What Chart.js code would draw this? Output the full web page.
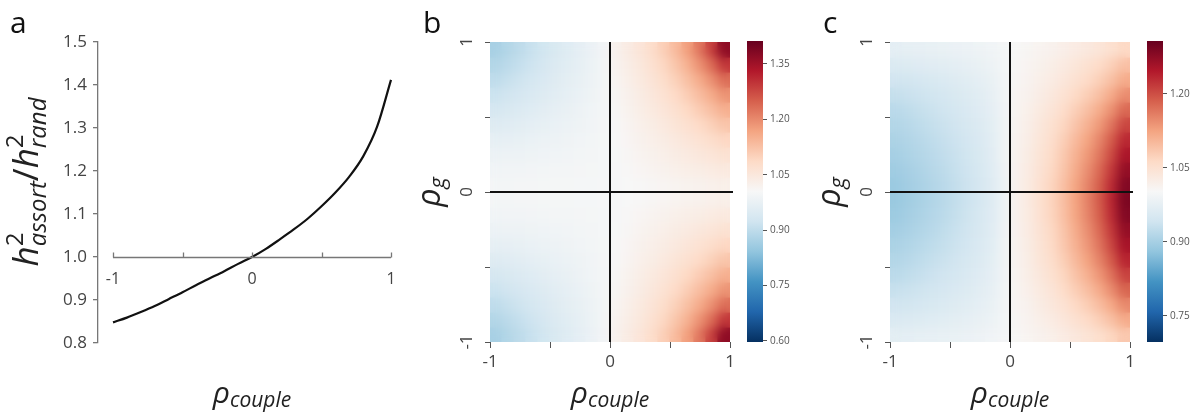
<!DOCTYPE html>
<html>
<head>
<meta charset="utf-8">
<script src="https://cdn.jsdelivr.net/npm/chart.js@4.4.1/dist/chart.umd.min.js"></script>
<style>
  html, body { margin: 0; padding: 0; background: #fff; }
  body { width: 1198px; height: 412px; position: relative; overflow: hidden; }
  canvas { position: absolute; top: 0; }
</style>
</head>
<body>
<canvas id="chartA" width="400" height="412" style="left:0"></canvas>
<canvas id="chartB" width="340" height="412" style="left:400px"></canvas>
<canvas id="barB" width="70" height="412" style="left:740px"></canvas>
<canvas id="chartC" width="340" height="412" style="left:800px"></canvas>
<canvas id="barC" width="70" height="412" style="left:1140px"></canvas>
<script>
// ===== Data =====
// panel a : h2 ratio vs rho couple
const rhoCouple = [-1, -0.9, -0.8, -0.7, -0.6, -0.5, -0.4, -0.3, -0.2, -0.1, 0, 0.1, 0.2, 0.3, 0.4, 0.5, 0.6, 0.7, 0.8, 0.9, 1]
const h2Ratio = [0.848, 0.859, 0.872, 0.886, 0.902, 0.918, 0.935, 0.951, 0.967, 0.984, 1.000, 1.019, 1.041, 1.064, 1.089, 1.118, 1.150, 1.187, 1.234, 1.303, 1.412]
const aTicksY = [0.8, 0.9, 1.0, 1.1, 1.2, 1.3, 1.4, 1.5]
const xTicks = [-1, -0.5, 0, 0.5, 1]

// panels b and c : cell centres (rows listed top -> bottom)
const cellX = [-0.95, -0.85, -0.75, -0.65, -0.55, -0.45, -0.35, -0.25, -0.15, -0.05, 0.05, 0.15, 0.25, 0.35, 0.45, 0.55, 0.65, 0.75, 0.85, 0.95]
const cellY = [0.95, 0.85, 0.75, 0.65, 0.55, 0.45, 0.35, 0.25, 0.15, 0.05, -0.05, -0.15, -0.25, -0.35, -0.45, -0.55, -0.65, -0.75, -0.85, -0.95]

const heatB = [
  [0.870, 0.884, 0.898, 0.912, 0.926, 0.940, 0.953, 0.966, 0.979, 0.993, 1.022, 1.038, 1.056, 1.078, 1.104, 1.135, 1.173, 1.222, 1.285, 1.370],
  [0.884, 0.896, 0.908, 0.921, 0.933, 0.946, 0.958, 0.969, 0.981, 0.994, 1.018, 1.033, 1.049, 1.068, 1.091, 1.118, 1.150, 1.190, 1.235, 1.295],
  [0.900, 0.910, 0.920, 0.931, 0.942, 0.952, 0.963, 0.973, 0.983, 0.994, 1.014, 1.028, 1.043, 1.059, 1.078, 1.101, 1.127, 1.157, 1.192, 1.232],
  [0.917, 0.925, 0.933, 0.942, 0.951, 0.960, 0.969, 0.977, 0.986, 0.995, 1.011, 1.024, 1.037, 1.051, 1.066, 1.085, 1.107, 1.131, 1.157, 1.188],
  [0.934, 0.940, 0.946, 0.953, 0.961, 0.968, 0.975, 0.982, 0.989, 0.996, 1.008, 1.020, 1.031, 1.043, 1.056, 1.071, 1.088, 1.108, 1.128, 1.151],
  [0.951, 0.955, 0.960, 0.966, 0.971, 0.976, 0.981, 0.986, 0.992, 0.997, 1.005, 1.015, 1.025, 1.035, 1.046, 1.058, 1.071, 1.085, 1.101, 1.119],
  [0.967, 0.970, 0.973, 0.976, 0.980, 0.983, 0.987, 0.991, 0.994, 0.998, 1.004, 1.012, 1.021, 1.029, 1.037, 1.046, 1.056, 1.066, 1.078, 1.090],
  [0.980, 0.982, 0.983, 0.986, 0.988, 0.990, 0.992, 0.994, 0.996, 0.999, 1.003, 1.010, 1.016, 1.023, 1.029, 1.036, 1.042, 1.050, 1.057, 1.065],
  [0.990, 0.991, 0.992, 0.993, 0.994, 0.995, 0.996, 0.997, 0.998, 0.999, 1.002, 1.007, 1.012, 1.016, 1.021, 1.026, 1.031, 1.035, 1.040, 1.045],
  [0.996, 0.996, 0.997, 0.997, 0.998, 0.998, 0.998, 0.999, 0.999, 1.000, 1.001, 1.004, 1.007, 1.010, 1.013, 1.016, 1.019, 1.022, 1.025, 1.028],
  [0.996, 0.996, 0.997, 0.997, 0.998, 0.998, 0.998, 0.999, 0.999, 1.000, 1.001, 1.004, 1.007, 1.010, 1.013, 1.016, 1.019, 1.022, 1.025, 1.028],
  [0.990, 0.991, 0.992, 0.993, 0.994, 0.995, 0.996, 0.997, 0.998, 0.999, 1.002, 1.007, 1.012, 1.016, 1.021, 1.026, 1.031, 1.035, 1.040, 1.045],
  [0.980, 0.982, 0.983, 0.986, 0.988, 0.990, 0.992, 0.994, 0.996, 0.999, 1.003, 1.010, 1.016, 1.023, 1.029, 1.036, 1.042, 1.050, 1.057, 1.065],
  [0.967, 0.970, 0.973, 0.976, 0.980, 0.983, 0.987, 0.991, 0.994, 0.998, 1.004, 1.012, 1.021, 1.029, 1.037, 1.046, 1.056, 1.066, 1.078, 1.090],
  [0.951, 0.955, 0.960, 0.966, 0.971, 0.976, 0.981, 0.986, 0.992, 0.997, 1.005, 1.015, 1.025, 1.035, 1.046, 1.058, 1.071, 1.085, 1.101, 1.119],
  [0.934, 0.940, 0.946, 0.953, 0.961, 0.968, 0.975, 0.982, 0.989, 0.996, 1.008, 1.020, 1.031, 1.043, 1.056, 1.071, 1.088, 1.108, 1.128, 1.151],
  [0.917, 0.925, 0.933, 0.942, 0.951, 0.960, 0.969, 0.977, 0.986, 0.995, 1.011, 1.024, 1.037, 1.051, 1.066, 1.085, 1.107, 1.131, 1.157, 1.188],
  [0.900, 0.910, 0.920, 0.931, 0.942, 0.952, 0.963, 0.973, 0.983, 0.994, 1.014, 1.028, 1.043, 1.059, 1.078, 1.101, 1.127, 1.157, 1.192, 1.232],
  [0.884, 0.896, 0.908, 0.921, 0.933, 0.946, 0.958, 0.969, 0.981, 0.994, 1.018, 1.033, 1.049, 1.068, 1.091, 1.118, 1.150, 1.190, 1.235, 1.295],
  [0.870, 0.884, 0.898, 0.912, 0.926, 0.940, 0.953, 0.966, 0.979, 0.993, 1.022, 1.038, 1.056, 1.078, 1.104, 1.135, 1.173, 1.222, 1.285, 1.370]
]

const heatC = [
  [0.972, 0.974, 0.976, 0.978, 0.980, 0.982, 0.984, 0.987, 0.991, 0.996, 1.003, 1.007, 1.011, 1.015, 1.021, 1.028, 1.034, 1.042, 1.052, 1.064],
  [0.957, 0.960, 0.963, 0.966, 0.969, 0.972, 0.976, 0.980, 0.986, 0.994, 1.005, 1.010, 1.016, 1.022, 1.030, 1.040, 1.050, 1.061, 1.075, 1.093],
  [0.942, 0.945, 0.949, 0.953, 0.957, 0.962, 0.967, 0.973, 0.980, 0.992, 1.006, 1.012, 1.020, 1.028, 1.038, 1.050, 1.062, 1.076, 1.094, 1.116],
  [0.929, 0.934, 0.938, 0.943, 0.948, 0.954, 0.960, 0.967, 0.976, 0.991, 1.008, 1.015, 1.025, 1.035, 1.048, 1.063, 1.078, 1.095, 1.118, 1.145],
  [0.919, 0.924, 0.929, 0.935, 0.941, 0.947, 0.955, 0.963, 0.973, 0.989, 1.009, 1.018, 1.031, 1.043, 1.058, 1.076, 1.095, 1.116, 1.143, 1.177],
  [0.912, 0.917, 0.923, 0.929, 0.935, 0.942, 0.950, 0.959, 0.970, 0.988, 1.011, 1.021, 1.036, 1.050, 1.067, 1.089, 1.110, 1.135, 1.167, 1.206],
  [0.905, 0.911, 0.917, 0.924, 0.930, 0.938, 0.946, 0.956, 0.968, 0.987, 1.012, 1.024, 1.040, 1.056, 1.076, 1.100, 1.124, 1.152, 1.188, 1.232],
  [0.899, 0.906, 0.912, 0.919, 0.926, 0.934, 0.943, 0.953, 0.966, 0.987, 1.013, 1.026, 1.044, 1.061, 1.083, 1.109, 1.135, 1.165, 1.204, 1.252],
  [0.894, 0.900, 0.907, 0.915, 0.922, 0.931, 0.940, 0.951, 0.964, 0.986, 1.014, 1.028, 1.047, 1.065, 1.088, 1.116, 1.144, 1.177, 1.219, 1.270],
  [0.889, 0.896, 0.903, 0.911, 0.919, 0.928, 0.938, 0.949, 0.962, 0.985, 1.015, 1.029, 1.049, 1.069, 1.093, 1.123, 1.152, 1.186, 1.230, 1.284],
  [0.888, 0.895, 0.902, 0.910, 0.918, 0.927, 0.937, 0.948, 0.962, 0.985, 1.015, 1.030, 1.050, 1.070, 1.095, 1.125, 1.155, 1.190, 1.235, 1.290],
  [0.891, 0.898, 0.905, 0.913, 0.920, 0.929, 0.939, 0.950, 0.963, 0.985, 1.015, 1.029, 1.049, 1.069, 1.093, 1.123, 1.152, 1.186, 1.230, 1.284],
  [0.897, 0.903, 0.910, 0.917, 0.925, 0.933, 0.942, 0.952, 0.965, 0.986, 1.014, 1.028, 1.047, 1.065, 1.088, 1.116, 1.144, 1.177, 1.219, 1.270],
  [0.904, 0.910, 0.916, 0.923, 0.929, 0.937, 0.946, 0.955, 0.967, 0.987, 1.013, 1.026, 1.044, 1.062, 1.084, 1.110, 1.136, 1.167, 1.207, 1.255],
  [0.912, 0.917, 0.923, 0.929, 0.935, 0.942, 0.950, 0.959, 0.970, 0.988, 1.012, 1.024, 1.041, 1.057, 1.077, 1.101, 1.126, 1.154, 1.190, 1.235],
  [0.920, 0.925, 0.930, 0.936, 0.942, 0.948, 0.955, 0.963, 0.973, 0.989, 1.011, 1.022, 1.036, 1.050, 1.068, 1.090, 1.112, 1.137, 1.169, 1.209],
  [0.931, 0.935, 0.939, 0.944, 0.949, 0.955, 0.961, 0.968, 0.976, 0.991, 1.009, 1.019, 1.031, 1.043, 1.059, 1.078, 1.096, 1.118, 1.146, 1.180],
  [0.942, 0.945, 0.949, 0.953, 0.957, 0.962, 0.967, 0.973, 0.980, 0.992, 1.008, 1.015, 1.026, 1.036, 1.048, 1.064, 1.079, 1.097, 1.120, 1.148],
  [0.955, 0.958, 0.961, 0.964, 0.967, 0.971, 0.975, 0.979, 0.985, 0.994, 1.006, 1.012, 1.020, 1.028, 1.038, 1.050, 1.062, 1.076, 1.094, 1.116],
  [0.970, 0.972, 0.974, 0.976, 0.978, 0.980, 0.983, 0.986, 0.990, 0.996, 1.004, 1.009, 1.015, 1.020, 1.028, 1.036, 1.045, 1.055, 1.068, 1.084]
]

// colour bars
const rangeB = [0.597, 1.412]
const rangeC = [0.697, 1.307]
const cbTicksB = [0.60, 0.75, 0.90, 1.05, 1.20, 1.35]
const cbTicksC = [0.75, 0.90, 1.05, 1.20]

// RdBu reversed (blue -> white -> red)
const rdbuR = ['#053061', '#2166ac', '#4393c3', '#92c5de', '#d1e5f0', '#f7f7f7', '#fddbc7', '#f4a582', '#d6604d', '#b2182b', '#67001f']

// ===== Helpers =====
const FONT = '"Open Sans", "DejaVu Sans", sans-serif'
const TICK_COLOR = '#444'

function hexToRgb(h) {
  const n = parseInt(h.slice(1), 16)
  return [n >> 16, (n >> 8) & 255, n & 255]
}

function colorFor(v, range) {
  let t = (v - range[0]) / (range[1] - range[0])
  t = Math.min(1, Math.max(0, t)) * (rdbuR.length - 1)
  const i = Math.min(Math.floor(t), rdbuR.length - 2)
  const f = t - i
  const a = hexToRgb(rdbuR[i])
  const b = hexToRgb(rdbuR[i + 1])
  const c = a.map((ch, k) => Math.round(ch + (b[k] - ch) * f))
  return `rgb(${c[0]}, ${c[1]}, ${c[2]})`
}

// groups of text pieces drawn in a row; pieces of one group share the same x (h^2_assort)
function drawRich(ctx, groups, x, y, rotate) {
  const fontOf = p => `${p.up ? 'normal' : 'italic'} ${p.size}px ${FONT}`
  ctx.save()
  ctx.translate(x, y)
  if (rotate) ctx.rotate(-Math.PI / 2)
  const widths = groups.map(g => Math.max(...g.map(p => {
    ctx.font = fontOf(p)
    return ctx.measureText(p.t).width
  })))
  let cx = -widths.reduce((a, b) => a + b, 0) / 2
  ctx.fillStyle = '#222'
  ctx.textBaseline = 'alphabetic'
  groups.forEach((g, i) => {
    g.forEach(p => {
      ctx.font = fontOf(p)
      ctx.fillText(p.t, cx, p.dy || 0)
    })
    cx += widths[i]
  })
  ctx.restore()
}

function drawLetter(ctx, letter, x, y) {
  ctx.save()
  ctx.font = `30px ${FONT}`
  ctx.fillStyle = '#111'
  ctx.fillText(letter, x, y)
  ctx.restore()
}

const rhoCoupleTitle = [[{ t: 'ρ', size: 30 }], [{ t: 'couple', size: 21, dy: 4 }]]
const rhoGTitle = [[{ t: 'ρ', size: 32 }], [{ t: 'g', size: 22, dy: 5 }]]
const h2Title = [
  [{ t: 'h', size: 35 }],
  [{ t: '2', size: 24, dy: -15, up: true }, { t: 'assort', size: 24, dy: 8 }],
  [{ t: '/', size: 35, up: true }],
  [{ t: 'h', size: 35 }],
  [{ t: '2', size: 24, dy: -15, up: true }, { t: 'rand', size: 24, dy: 8 }]
]

// ===== Panel a =====
const panelA = {
  id: 'panelA',
  afterDraw(chart) {
    const { ctx, scales: { x, y } } = chart
    // x spine sits on y = 1.0 and only spans the data range, ticks pointing up
    const y0 = Math.round(y.getPixelForValue(1.0)) + 0.5
    ctx.save()
    ctx.strokeStyle = '#777'
    ctx.lineWidth = 1.3
    ctx.beginPath()
    ctx.moveTo(x.getPixelForValue(xTicks[0]), y0)
    ctx.lineTo(x.getPixelForValue(xTicks[xTicks.length - 1]), y0)
    xTicks.forEach(v => {
      const px = Math.round(x.getPixelForValue(v)) + 0.5
      ctx.moveTo(px, y0)
      ctx.lineTo(px, y0 - 5)
    })
    ctx.stroke()
    ctx.restore()
    drawLetter(ctx, 'a', 10, 33)
    drawRich(ctx, h2Title, 38, 182, true)
    drawRich(ctx, rhoCoupleTitle, x.getPixelForValue(0), 403, false)
  }
}

new Chart(document.getElementById('chartA'), {
  type: 'line',
  data: {
    datasets: [{
      data: rhoCouple.map((r, i) => ({ x: r, y: h2Ratio[i] })),
      borderColor: '#111',
      borderWidth: 2.2,
      pointRadius: 0,
      cubicInterpolationMode: 'monotone',
      clip: false
    }]
  },
  options: {
    responsive: false,
    animation: false,
    devicePixelRatio: 1,
    layout: { padding: { left: 48, right: 9, top: 42, bottom: 69 } },
    plugins: { legend: { display: false }, tooltip: { enabled: false } },
    scales: {
      x: {
        type: 'linear',
        min: -1.108,
        max: 1,
        position: { y: 1.0 },
        afterBuildTicks: s => { s.ticks = xTicks.map(v => ({ value: v })) },
        ticks: {
          callback: v => Number.isInteger(v) ? String(v) : '',
          autoSkip: false, maxRotation: 0,
          font: { family: FONT, size: 16 }, color: TICK_COLOR, padding: 0
        },
        // invisible tick marks; their length only pushes the labels below the spine
        grid: { display: true, drawOnChartArea: false, drawTicks: true, tickLength: 13, color: 'rgba(0,0,0,0)' },
        border: { display: false }
      },
      y: {
        min: 0.8,
        max: 1.5,
        afterBuildTicks: s => { s.ticks = aTicksY.map(v => ({ value: v })) },
        afterFit: s => { s.width = 50 },
        ticks: {
          callback: v => v.toFixed(1),
          font: { family: FONT, size: 17 }, color: TICK_COLOR, padding: 6
        },
        grid: { drawOnChartArea: false, drawTicks: true, tickLength: 5, color: '#777', lineWidth: 1.3 },
        border: { display: true, color: '#777', width: 1.3 }
      }
    }
  },
  plugins: [panelA]
})

// ===== Panels b & c =====
function heatmapChart(canvasId, grid, range, letter) {
  const halfH = (cellY[0] - cellY[1]) / 2
  const datasets = grid.map((row, r) => ({
    data: row.map((v, c) => ({ x: cellX[c], y: [cellY[r] - halfH, cellY[r] + halfH] })),
    backgroundColor: row.map(v => colorFor(v, range)),
    borderWidth: 0,
    barPercentage: 1,
    categoryPercentage: 1,
    grouped: false,
    inflateAmount: 0.6
  }))

  const overlay = {
    id: 'overlay',
    afterDatasetsDraw(chart) {
      const { ctx, chartArea, scales: { x, y } } = chart
      const { left, top, width, height } = chartArea
      // smooth the cells like an interpolated image
      const off = document.createElement('canvas')
      off.width = width
      off.height = height
      off.getContext('2d').drawImage(chart.canvas, left, top, width, height, 0, 0, width, height)
      ctx.save()
      ctx.beginPath()
      ctx.rect(left, top, width, height)
      ctx.clip()
      ctx.filter = 'blur(5px)'
      ctx.drawImage(off, left, top)
      ctx.restore()

      ctx.save()
      ctx.strokeStyle = '#111'
      ctx.lineWidth = 2
      ctx.beginPath()
      ctx.moveTo(x.getPixelForValue(0), chartArea.top)
      ctx.lineTo(x.getPixelForValue(0), chartArea.bottom)
      ctx.moveTo(chartArea.left, y.getPixelForValue(0))
      ctx.lineTo(chartArea.right + 3, y.getPixelForValue(0))
      ctx.stroke()
      ctx.restore()
    },
    afterDraw(chart) {
      const { ctx, scales: { x, y } } = chart
      drawLetter(ctx, letter, 23, 33)
      drawRich(ctx, rhoGTitle, 40, y.getPixelForValue(0), true)
      drawRich(ctx, rhoCoupleTitle, x.getPixelForValue(0), 403, false)
    }
  }

  const axisTicks = {
    autoSkip: false,
    font: { family: FONT, size: 17 },
    color: TICK_COLOR,
    callback: v => Number.isInteger(v) ? String(v) : ''
  }

  return new Chart(document.getElementById(canvasId), {
    type: 'bar',
    data: { datasets },
    options: {
      responsive: false,
      animation: false,
      devicePixelRatio: 1,
      layout: { padding: { left: 40, right: 10, top: 42, bottom: 40 } },
      plugins: { legend: { display: false }, tooltip: { enabled: false } },
      scales: {
        x: {
          type: 'linear', min: -1, max: 1, offset: false,
          afterBuildTicks: s => { s.ticks = xTicks.map(v => ({ value: v })) },
          afterFit: s => { s.height = 30 },
          ticks: { ...axisTicks, maxRotation: 0, padding: 4 },
          grid: { drawOnChartArea: false, drawTicks: true, tickLength: 6, color: '#555', offset: false },
          border: { display: false }
        },
        y: {
          type: 'linear', min: -1, max: 1,
          afterBuildTicks: s => { s.ticks = xTicks.map(v => ({ value: v })) },
          afterFit: s => { s.width = 50 },
          ticks: { ...axisTicks, minRotation: 90, maxRotation: 90, crossAlign: 'center', padding: 10 },
          grid: { drawOnChartArea: false, drawTicks: true, tickLength: 5, color: '#555' },
          border: { display: false }
        }
      }
    },
    plugins: [overlay]
  })
}

function colorbarChart(canvasId, range, ticks) {
  const gradient = ctx => {
    const { chart } = ctx
    if (!chart.chartArea) return null
    const y = chart.scales.y
    const g = chart.ctx.createLinearGradient(0, y.getPixelForValue(range[0]), 0, y.getPixelForValue(range[1]))
    rdbuR.forEach((c, i) => g.addColorStop(i / (rdbuR.length - 1), c))
    return g
  }

  return new Chart(document.getElementById(canvasId), {
    type: 'bar',
    data: {
      labels: [''],
      datasets: [{ data: [range], backgroundColor: gradient, borderWidth: 0, barPercentage: 1, categoryPercentage: 1 }]
    },
    options: {
      responsive: false,
      animation: false,
      devicePixelRatio: 1,
      layout: { padding: { left: 7, right: 7, top: 41, bottom: 70 } },
      plugins: { legend: { display: false }, tooltip: { enabled: false } },
      scales: {
        x: { display: false },
        y: {
          position: 'right',
          min: range[0],
          max: range[1],
          afterBuildTicks: s => { s.ticks = ticks.map(v => ({ value: v })) },
          afterFit: s => { s.width = 40 },
          ticks: { callback: v => v.toFixed(2), font: { family: FONT, size: 10 }, color: '#555', padding: 3 },
          grid: { drawOnChartArea: false, drawTicks: true, tickLength: 4, color: '#555' },
          border: { display: false }
        }
      }
    }
  })
}

heatmapChart('chartB', heatB, rangeB, 'b')
colorbarChart('barB', rangeB, cbTicksB)
heatmapChart('chartC', heatC, rangeC, 'c')
colorbarChart('barC', rangeC, cbTicksC)
</script>
</body>
</html>
